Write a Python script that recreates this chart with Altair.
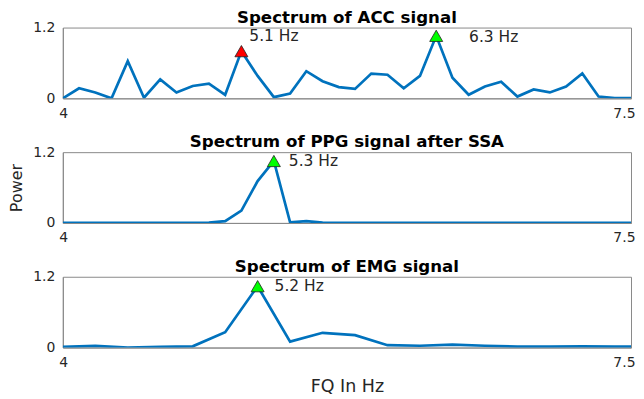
import altair as alt
import pandas as pd

# ---- data ----
freq_fine = [4.0, 4.1, 4.2, 4.3, 4.4, 4.5, 4.6, 4.7, 4.8, 4.9,
             5.0, 5.1, 5.2, 5.3, 5.4, 5.5, 5.6, 5.7, 5.8, 5.9,
             6.0, 6.1, 6.2, 6.3, 6.4, 6.5, 6.6, 6.7, 6.8, 6.9,
             7.0, 7.1, 7.2, 7.3, 7.4, 7.5]
acc_power = [0.0, 0.17, 0.10, 0.0, 0.63, 0.01, 0.32, 0.10, 0.21, 0.25,
             0.06, 0.80, 0.38, 0.02, 0.08, 0.46, 0.29, 0.19, 0.16, 0.42,
             0.40, 0.17, 0.38, 1.06, 0.35, 0.06, 0.20, 0.28, 0.03, 0.15,
             0.10, 0.20, 0.42, 0.03, 0.005, 0.005]
ppg_power = [0.0, 0.0, 0.0, 0.0, 0.0, 0.0, 0.0, 0.0, 0.0, 0.005,
             0.03, 0.21, 0.71, 1.05, 0.01, 0.03, 0.005, 0.0, 0.0, 0.0,
             0.0, 0.0, 0.0, 0.0, 0.0, 0.0, 0.0, 0.0, 0.0, 0.0,
             0.0, 0.0, 0.0, 0.0, 0.0, 0.0]
freq_emg = [4.0, 4.2, 4.4, 4.6, 4.8, 5.0, 5.2, 5.4, 5.6, 5.8,
            6.0, 6.2, 6.4, 6.6, 6.8, 7.0, 7.2, 7.4, 7.5]
emg_power = [0.01, 0.028, 0.0, 0.01, 0.02, 0.26, 1.04, 0.10, 0.25, 0.21,
             0.04, 0.03, 0.05, 0.03, 0.017, 0.017, 0.02, 0.017, 0.017]

acc_peak_f = [5.1, 6.3]
acc_peak_p = [0.80, 1.06]
acc_peak_label = ["5.1 Hz", "6.3 Hz"]
acc_peak_color = ["#FF0000", "#00FF00"]
ppg_peak_f = [5.3]
ppg_peak_p = [1.05]
ppg_peak_label = ["5.3 Hz"]
emg_peak_f = [5.2]
emg_peak_p = [1.04]
emg_peak_label = ["5.2 Hz"]

titles = ["Spectrum of ACC signal", "Spectrum of PPG signal after SSA", "Spectrum of EMG signal"]
x_ticks = [4, 7.5]
y_ticks = [0, 1.2]

LINE = "#0072BD"
W, H = 570, 71


def panel(freqs, powers, pk_f, pk_p, pk_lab, pk_col, label_offsets, title,
          ytitle=None, xtitle=None):
    df = pd.DataFrame({"f": freqs, "p": powers})
    pk = pd.DataFrame({"f": pk_f, "p": pk_p, "lab": pk_lab, "col": pk_col})
    x = alt.X("f:Q", scale=alt.Scale(domain=[4, 7.5], nice=False, zero=False),
              axis=alt.Axis(values=x_ticks, format=".1~f", title=xtitle,
                            labelFlush=True, labelFlushOffset=4,
                            labelPadding=8, titlePadding=8, titleFontSize=17.5))
    y = alt.Y("p:Q", scale=alt.Scale(domain=[0, 1.2], nice=False),
              axis=alt.Axis(values=y_ticks, format=".1~f", title=ytitle, labelFlush=False,
                            labelPadding=8, titlePadding=8, titleFontSize=16))
    line = alt.Chart(df).mark_line(color=LINE, strokeWidth=2.7, clip=True).encode(x=x, y=y)
    pts = alt.Chart(pk).mark_point(shape="triangle-up", size=170, filled=True,
                                   stroke="#222222", strokeWidth=0.8, opacity=1).encode(
        x="f:Q", y="p:Q", fill=alt.Fill("col:N", scale=None))
    ttl = alt.Chart(pd.DataFrame({"t": [title]})).mark_text(
        fontSize=16.7, fontWeight="bold", color="black", align="center",
        baseline="alphabetic").encode(
        x=alt.value(W / 2), y=alt.value(-5), text="t:N")
    layers = [line, pts, ttl]
    for i, (dx, dy) in enumerate(label_offsets):
        t = alt.Chart(pk.iloc[[i]]).mark_text(align="left", baseline="middle", dx=dx, dy=dy,
                                              fontSize=15.5, color="#262626").encode(
            x="f:Q", y="p:Q", text="lab:N")
        layers.append(t)
    return alt.layer(*layers).properties(width=W, height=H)


p1 = panel(freq_fine, acc_power, acc_peak_f, acc_peak_p, acc_peak_label, acc_peak_color,
           [(8, -15), (33, 1)], titles[0])
p2 = panel(freq_fine, ppg_power, ppg_peak_f, ppg_peak_p, ppg_peak_label, ["#00FF00"],
           [(15, 0)], titles[1], ytitle="Power")
p3 = panel(freq_emg, emg_power, emg_peak_f, emg_peak_p, emg_peak_label, ["#00FF00"],
           [(17, 0)], titles[2], xtitle="FQ In Hz")

chart = alt.vconcat(p1, p2, p3, spacing=54, bounds="flush").properties(
    padding={"left": 0, "top": 0, "right": 0, "bottom": 0}
).configure(font="DejaVu Sans").configure_view(
    stroke="#8a8a8a", strokeWidth=1
).configure_axis(
    grid=False, ticks=False, tickSize=0, domain=True, domainColor="#8a8a8a",
    labelFontSize=14, labelColor="#262626", titleColor="#262626",
    titleFontWeight="normal"
)

chart.save("out.html", embed_options={"renderer": "svg", "actions": False})
